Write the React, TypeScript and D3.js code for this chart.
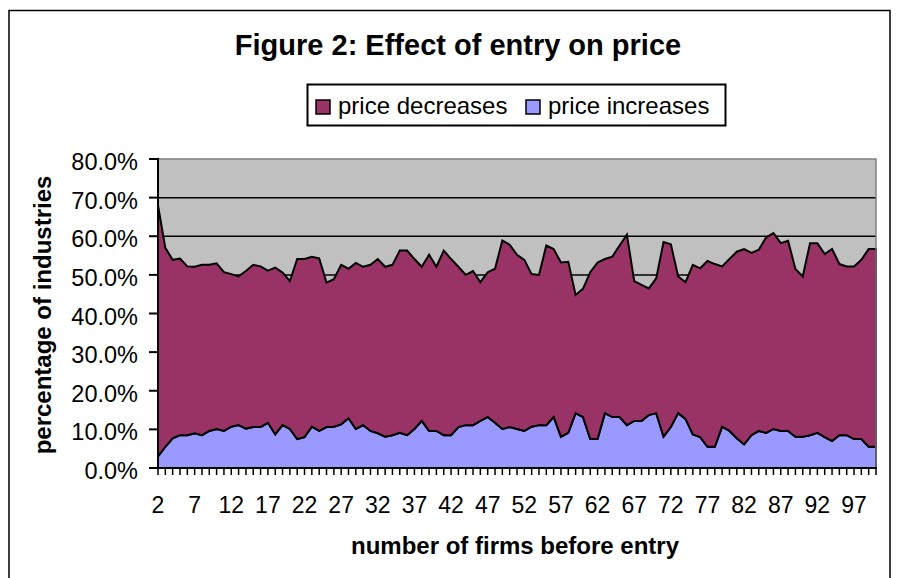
import React from 'react'
import * as d3 from 'd3'

// number of firms before entry: 2 .. 100
const firms = d3.range(2, 101)

// share of industries (%) where entry was followed by a price increase
const increases = [
  3.0, 5.5, 7.7, 8.5, 8.5, 9.0, 8.5, 9.6, 10.1, 9.6,
  10.7, 11.1, 10.2, 10.6, 10.6, 11.7, 8.7, 11.1, 10.1, 7.5,
  8.0, 10.7, 9.6, 10.6, 10.7, 11.3, 12.9, 10.1, 11.1, 9.6,
  9.0, 8.1, 8.5, 9.1, 8.5, 10.1, 12.2, 9.6, 9.6, 8.5,
  8.5, 10.6, 11.1, 11.1, 12.2, 13.2, 11.7, 10.1, 10.6, 10.1,
  9.6, 10.7, 11.1, 11.1, 13.2, 8.1, 9.1, 14.2, 13.2, 7.5,
  7.5, 14.2, 13.2, 13.2, 11.1, 12.2, 12.2, 13.7, 14.2, 8.1,
  10.6, 14.2, 12.7, 8.7, 8.0, 5.5, 5.5, 10.7, 9.6, 7.7,
  6.1, 8.5, 9.6, 9.1, 10.1, 9.6, 9.6, 8.1, 8.1, 8.5,
  9.1, 8.0, 7.0, 8.5, 8.5, 7.5, 7.5, 5.5, 5.5
]

// share of industries (%) where entry was followed by a price decrease
const decreases = [
  65.0, 51.5, 46.2, 45.7, 43.7, 43.1, 44.1, 43.0, 42.9, 41.1,
  39.5, 38.5, 40.8, 42.0, 41.6, 39.4, 43.2, 39.5, 38.3, 46.6,
  46.1, 44.0, 44.7, 37.4, 38.2, 41.3, 38.7, 43.0, 41.0, 43.0,
  45.1, 44.0, 44.1, 47.2, 47.8, 44.0, 39.9, 45.6, 42.5, 47.8,
  45.6, 41.5, 38.9, 39.9, 35.9, 37.5, 39.9, 48.8, 47.2, 45.1,
  44.3, 39.5, 38.9, 46.5, 43.5, 45.1, 44.3, 30.6, 33.2, 43.2,
  45.7, 39.9, 41.5, 44.4, 49.3, 36.2, 35.2, 32.8, 34.9, 50.4,
  47.3, 35.4, 35.4, 43.9, 43.7, 48.1, 47.3, 41.5, 44.5, 48.3,
  50.6, 47.2, 46.9, 50.6, 50.7, 48.6, 49.2, 43.4, 41.5, 49.7,
  49.1, 47.4, 49.7, 44.3, 43.7, 44.7, 46.4, 51.2, 51.2
]

const xTickLabels = [2, 7, 12, 17, 22, 27, 32, 37, 42, 47, 52, 57, 62, 67, 72, 77, 82, 87, 92, 97]
const yTicks = [0, 10, 20, 30, 40, 50, 60, 70, 80]

const seriesKeys = ['increases', 'decreases']
const seriesNames = { decreases: 'price decreases', increases: 'price increases' }
const seriesColors = { decreases: '#993366', increases: '#9999FF' }

const W = 897
const H = 578
const font = '"Liberation Sans", Arial, sans-serif'

export default function App() {
  const x = d3.scaleLinear().domain([2, 100]).range([158, 876])
  const y = d3.scaleLinear().domain([0, 80]).range([468, 159])

  const rows = firms.map((n, i) => ({ n, increases: increases[i], decreases: decreases[i] }))
  const stacked = d3.stack().keys(seriesKeys)(rows)

  const area = d3.area()
    .x((d) => x(d.data.n))
    .y0((d) => y(d[0]))
    .y1((d) => y(d[1]))

  const pct = d3.format('.1%')

  return (
    <svg width={W} height={H} style={{ position: 'fixed', left: 0, top: 0, background: '#fff' }}
      fontFamily={font}>
      {/* chart frame */}
      <rect x={9} y={10.5} width={881} height={600} fill="#fff" stroke="#000" strokeWidth={1.5} />

      <text x={458} y={55} textAnchor="middle" fontSize={29} fontWeight="bold">
        Figure 2: Effect of entry on price
      </text>

      {/* legend */}
      <rect x={307.5} y={84.5} width={418} height={41} fill="#fff" stroke="#000" strokeWidth={2} />
      {['decreases', 'increases'].map((k, i) => {
        const lx = i === 0 ? 316 : 526
        return (
          <g key={k}>
            <rect x={lx} y={100} width={14} height={14} fill={seriesColors[k]} stroke="#000" strokeWidth={1.5} />
            <text x={lx + 22} y={114} fontSize={24}>{seriesNames[k]}</text>
          </g>
        )
      })}

      {/* plot area */}
      <rect x={158} y={159} width={718} height={309} fill="#C0C0C0" />
      {yTicks.filter((t) => t > 0 && t < 80).map((t) => (
        <line key={t} x1={158} x2={876} y1={y(t)} y2={y(t)} stroke="#000" strokeWidth={1.5} />
      ))}

      {stacked.map((s) => (
        <path key={s.key} d={area(s)} fill={seriesColors[s.key]} stroke="#000" strokeWidth={2}
          strokeLinejoin="miter" />
      ))}

      <rect x={158} y={159} width={718} height={309} fill="none" stroke="#808080" strokeWidth={1.5} />

      {/* y axis */}
      <line x1={158} x2={158} y1={158} y2={469} stroke="#000" strokeWidth={2} />
      {yTicks.map((t) => (
        <g key={t}>
          <line x1={149} x2={158} y1={y(t)} y2={y(t)} stroke="#000" strokeWidth={2} />
          <text x={138} y={y(t) + 11} textAnchor="end" fontSize={23.5}>{pct(t / 100)}</text>
        </g>
      ))}

      {/* x axis */}
      <line x1={157} x2={877} y1={468} y2={468} stroke="#000" strokeWidth={2} />
      {firms.map((n) => (
        <line key={n} x1={x(n)} x2={x(n)} y1={468} y2={475} stroke="#000" strokeWidth={1.5} />
      ))}
      {xTickLabels.map((n) => (
        <text key={n} x={x(n)} y={513} textAnchor="middle" fontSize={23}>{n}</text>
      ))}

      <text x={515} y={554} textAnchor="middle" fontSize={24} fontWeight="bold">
        number of firms before entry
      </text>
      <text transform="translate(51,315) rotate(-90)" textAnchor="middle" fontSize={24} fontWeight="bold">
        percentage of industries
      </text>
    </svg>
  )
}
